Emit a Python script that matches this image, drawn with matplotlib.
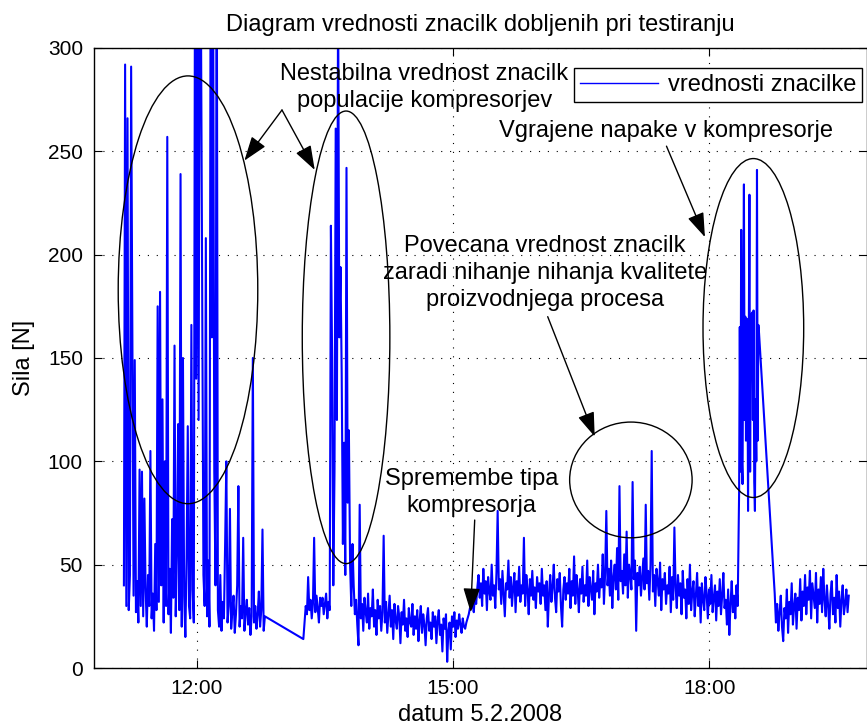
import numpy as np
import pandas as pd
import matplotlib
matplotlib.use('Agg')
import matplotlib.pyplot as plt
import matplotlib.dates as mdates
from matplotlib.patches import Ellipse

plt.rcParams['font.family'] = ['Liberation Sans', 'DejaVu Sans']

DAY = '2008-02-05 '

seg1_span = ('11:09', '12:48')
seg1 = [40, 292, 30, 266, 28, 45, 291, 160, 35, 149, 27, 42, 22, 96, 30, 95, 25, 82, 38, 20,
        45, 30, 105, 24, 36, 18, 60, 28, 175, 32, 182, 40, 130, 22, 100, 30, 257, 26, 48, 17,
        72, 34, 156, 25, 55, 118, 28, 239, 20, 150, 35, 15, 53, 117, 30, 24, 166, 38, 22, 350,
        140, 330, 120, 360, 310, 175, 45, 30, 208, 25, 52, 20, 360, 160, 340, 95, 40, 380, 28, 20,
        45, 18, 32, 24, 60, 100, 22, 30, 77, 19, 28, 35, 17, 26, 40, 88, 20, 30, 24, 63,
        18, 27, 33, 21, 29, 16, 25, 150, 22, 30, 19, 26, 37, 20, 28, 67, 18, 25]

seg2_span = ('13:15', '15:12')
seg2 = [14, 22, 30, 26, 44, 28, 33, 24, 31, 63, 27, 35, 29, 22, 34, 30, 34, 26, 31, 36,
        24, 32, 28, 214, 150, 40, 95, 261, 120, 330, 160, 194, 142, 60, 109, 45, 242, 80, 115, 50,
        30, 60, 40, 26, 33, 21, 11, 79, 24, 31, 18, 34, 27, 22, 36, 19, 29, 25, 38, 20,
        28, 16, 33, 24, 30, 18, 27, 64, 22, 32, 17, 26, 35, 20, 28, 14, 31, 23, 19, 30,
        25, 12, 27, 21, 33, 18, 24, 15, 29, 22, 20, 31, 16, 25, 19, 28, 13, 23, 30, 17,
        26, 21, 11, 24, 29, 18, 22, 14, 27, 20, 25, 12, 23, 28, 16, 21, 8, 24, 19, 26,
        3, 18, 22, 9, 25, 20, 27, 15, 23, 19, 26, 21, 17, 24, 20, 19, 22, 24, 26, 29]

seg3_span = ('15:13', '18:20')
seg3 = [29, 33, 27, 36, 31, 39, 45, 34, 41, 30, 48, 36, 42, 28, 44, 37, 33, 50, 35, 40,
        29, 46, 76, 38, 43, 31, 47, 36, 25, 41, 38, 52, 34, 44, 30, 39, 46, 27, 42, 35,
        49, 32, 40, 36, 63, 30, 45, 38, 26, 43, 35, 47, 33, 39, 29, 44, 37, 41, 31, 48,
        35, 40, 28, 42, 20, 36, 45, 32, 39, 50, 34, 27, 43, 37, 46, 30, 20, 38, 44, 33,
        41, 36, 48, 29, 42, 35, 54, 31, 45, 38, 27, 43, 36, 49, 32, 40, 35, 52, 30, 44,
        38, 33, 47, 26, 41, 37, 50, 34, 43, 39, 55, 31, 46, 76, 40, 48, 35, 52, 29, 44,
        50, 38, 58, 33, 88, 42, 47, 36, 55, 40, 66, 34, 50, 45, 38, 90, 43, 52, 18, 46,
        40, 49, 35, 44, 53, 38, 79, 41, 47, 33, 50, 105, 37, 45, 30, 48, 42, 35, 51, 28,
        43, 38, 46, 31, 40, 36, 49, 27, 44, 33, 68, 39, 29, 45, 35, 41, 26, 47, 34, 38,
        24, 43, 31, 50, 28, 37, 42, 25, 35, 46, 30, 39, 22, 41, 33, 28, 44, 36, 24, 38,
        31, 45, 27, 34, 40, 23, 37, 30, 43, 26, 35, 46, 29, 33, 21, 38, 16, 31, 42, 27,
        35, 24, 40, 30]

seg4_span = ('18:21', '18:35')
seg4 = [85, 165, 95, 212, 100, 89, 175, 234, 120, 170, 110, 169, 168, 76, 150, 229, 95, 170, 171, 172,
        120, 173, 90, 76, 130, 100, 241, 110, 166, 162]

seg5_span = ('18:46', '19:38')
seg5 = [36, 22, 31, 18, 27, 35, 20, 13, 29, 24, 38, 17, 32, 26, 41, 21, 30, 36, 19, 34,
        28, 43, 23, 37, 30, 45, 26, 39, 33, 47, 24, 41, 35, 29, 46, 22, 38, 31, 44, 27,
        48, 33, 25, 40, 30, 19, 36, 42, 26, 34, 22, 45, 29, 37, 20, 33, 40, 26, 31, 38,
        27, 35]

segments = [(seg1_span, seg1), (seg2_span, seg2), (seg3_span, seg3),
            (seg4_span, seg4), (seg5_span, seg5)]

times = []
values = []
for (start, end), vals in segments:
    times.append(pd.date_range(DAY + start, DAY + end, periods=len(vals)))
    values.extend(vals)
times = np.concatenate([t.to_pydatetime() for t in times])


def tnum(s):
    return mdates.date2num(pd.Timestamp(DAY + s))


fig = plt.figure(figsize=(8.67, 7.26), dpi=100)
ax = fig.add_axes([94 / 867, 1 - 668 / 726, 1 - 94 / 867 - 0.0005, (668 - 48) / 726])

ax.plot(times, values, color='b', lw=1.5, label='vrednosti znacilke')

ax.set_xlim(tnum('10:48'), tnum('19:50:30'))
ax.set_ylim(0, 300)
ax.set_yticks(np.arange(0, 301, 50))
ax.xaxis.set_major_locator(mdates.HourLocator(byhour=[12, 15, 18]))
ax.xaxis.set_major_formatter(mdates.DateFormatter('%H:%M'))
ax.tick_params(direction='in', length=6, width=0.8, top=True, right=True, labelsize=15, pad=8)
ax.grid(True, color='k', linestyle=(0, (1, 7)), lw=0.8)
for s in ax.spines.values():
    s.set_linewidth(1.0)

ax.set_title('Diagram vrednosti znacilk dobljenih pri testiranju', fontsize=17, pad=12)
ax.set_xlabel('datum 5.2.2008', fontsize=17, labelpad=4)
ax.set_ylabel('Sila [N]', fontsize=17, labelpad=9)

# ellipses around the interesting regions
ellipses = [('11:54', 183, 98, 207), ('13:45', 160, 61.5, 219),
            ('17:05', 91, 86, 56), ('18:31', 164.5, 70.7, 164)]
for c, v, wmin, h in ellipses:
    ax.add_patch(Ellipse((tnum(c), v), wmin / 1440, h, fill=False, ec='k', lw=1.0, zorder=4))

txt = dict(fontsize=17, ha='center', va='center', linespacing=1.3, zorder=3)
arrow = dict(arrowstyle='-|>,head_length=1.0,head_width=0.35', color='k', lw=1.0,
             mutation_scale=15, shrinkA=0, shrinkB=0)

ax.text(tnum('14:40'), 281, 'Nestabilna vrednost znacilk\npopulacije kompresorjev', **txt)
ax.annotate('', xy=(tnum('12:33:36'), 245.5), xytext=(tnum('13:00'), 270), arrowprops=arrow)
ax.annotate('', xy=(tnum('13:23'), 241), xytext=(tnum('13:00'), 270), arrowprops=arrow)

ax.text(tnum('17:29:24'), 260, 'Vgrajene napake v kompresorje', **txt)
ax.annotate('', xy=(tnum('17:57'), 208.5), xytext=(tnum('17:30'), 252.5), arrowprops=arrow)

ax.text(tnum('16:04:30'), 191,
        'Povecana vrednost znacilk\nzaradi nihanje nihanja kvalitete\nproizvodnjega procesa', **txt)
ax.annotate('', xy=(tnum('16:39:36'), 112), xytext=(tnum('16:06:36'), 170), arrowprops=arrow)

ax.text(tnum('15:13'), 85, 'Spremembe tipa\nkompresorja', **txt)
ax.annotate('', xy=(tnum('15:12:30'), 27), xytext=(tnum('15:15:20'), 71.6), arrowprops=arrow)

leg = ax.legend(loc='upper right', bbox_to_anchor=(862 / 867, 1 - 68 / 726),
                bbox_transform=fig.transFigure, fontsize=17, handlelength=3.3,
                fancybox=False, framealpha=1, edgecolor='k', borderpad=0.25,
                handletextpad=0.4, borderaxespad=0)
leg.get_frame().set_linewidth(1.0)
leg.get_lines()[0].set_linewidth(1.0)
leg.set_zorder(6)

fig.savefig('out.png', dpi=100)
